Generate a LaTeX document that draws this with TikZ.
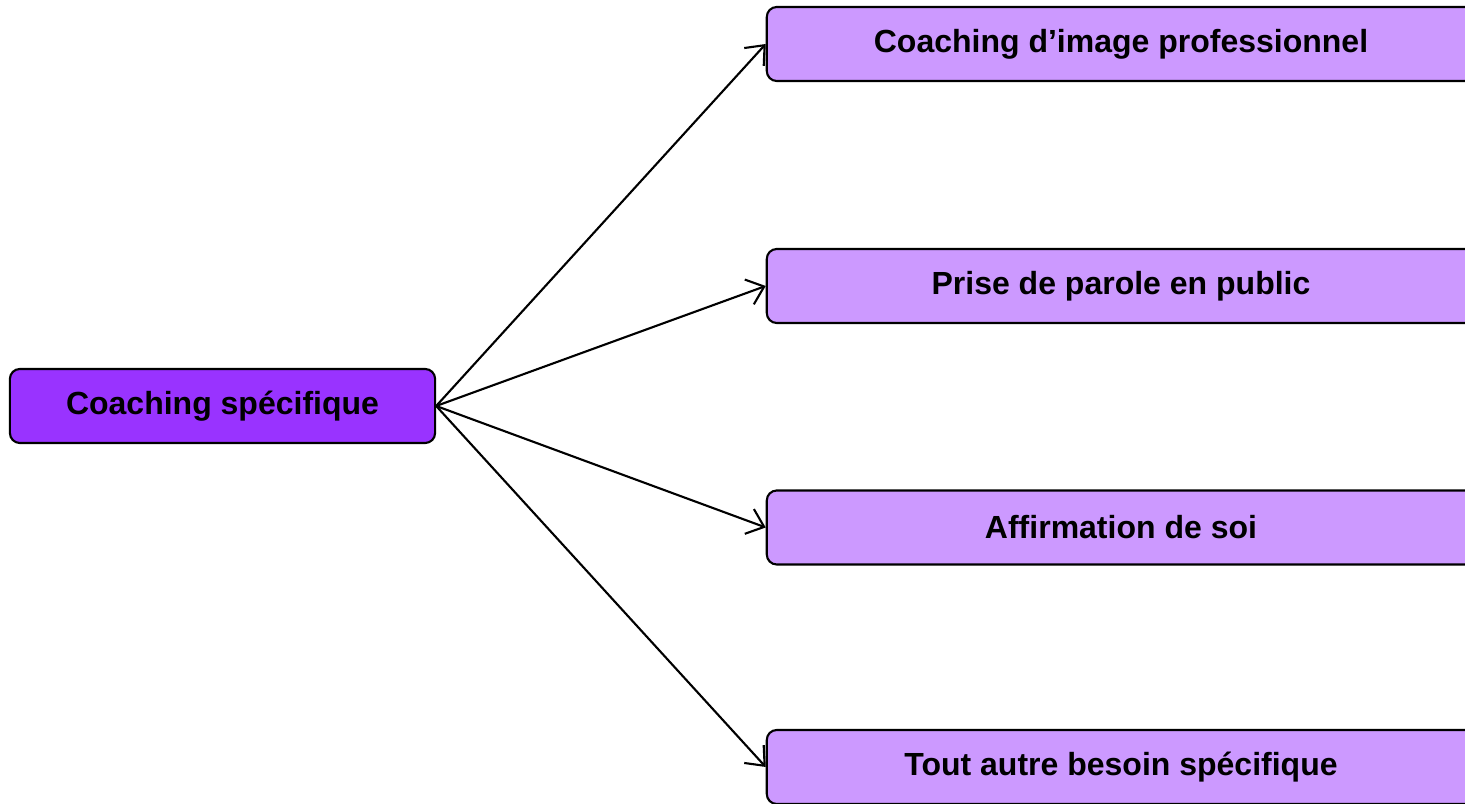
\documentclass[tikz,border=0pt]{standalone}
\usepackage{fontspec}
\setmainfont{Liberation Sans}
\usetikzlibrary{arrows.meta}
\definecolor{violetfort}{HTML}{9933FF}
\definecolor{violetclair}{HTML}{CC99FF}
\tikzset{
	boite/.style={draw=black, line width=0.6pt, rounded corners=0.1cm, font=\bfseries\fontsize{9.1}{11}\selectfont, inner sep=0pt},
	fleche/.style={line width=0.6pt, -{Straight Barb[length=4.5pt, width=7.5pt]}}
}
\begin{document}
\begin{tikzpicture}[x=0.01cm, y=-0.01cm]
		%%%%% START %%%%%
		\useasboundingbox (0, 0) rectangle (1465, 804);
		
		\node[boite, fill=violetfort, minimum width=4.25cm, minimum height=0.74cm] (spec) at (222.5, 406) {Coaching spécifique};
		
		\node[boite, fill=violetclair, minimum width=7.08cm, minimum height=0.74cm] (image) at (1121, 44) {Coaching d’image professionnel};
		\node[boite, fill=violetclair, minimum width=7.08cm, minimum height=0.74cm] (parole) at (1121, 286) {Prise de parole en public};
		\node[boite, fill=violetclair, minimum width=7.08cm, minimum height=0.74cm] (affirm) at (1121, 527.5) {Affirmation de soi};
		\node[boite, fill=violetclair, minimum width=7.08cm, minimum height=0.74cm] (besoin) at (1121, 767) {Tout autre besoin spécifique};
		
		\draw[fleche] (spec.east) -- (image.west);
		\draw[fleche] (spec.east) -- (parole.west);
		\draw[fleche] (spec.east) -- (affirm.west);
		\draw[fleche] (spec.east) -- (besoin.west);
		%%%%% END %%%%%
	\end{tikzpicture}
\end{document}
